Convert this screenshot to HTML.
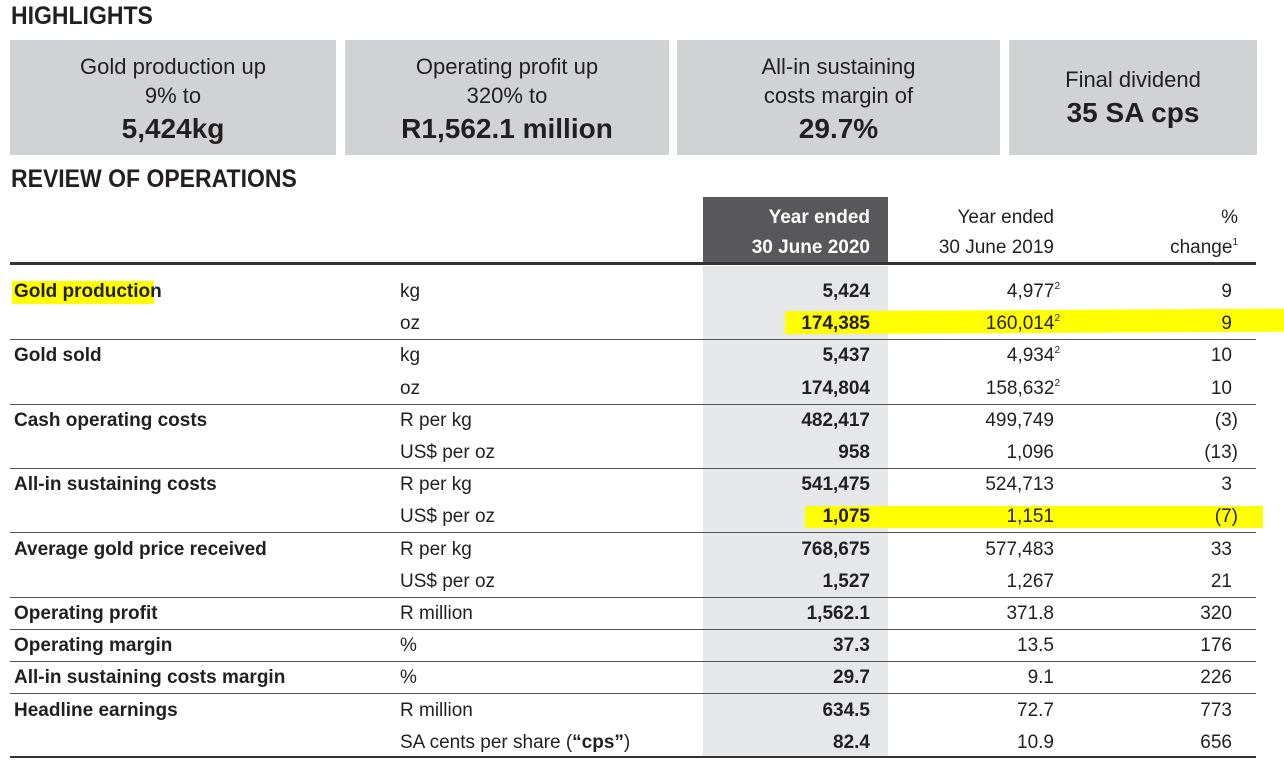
<!DOCTYPE html>
<html><head><meta charset="utf-8"><style>
body{margin:0;width:1284px;height:762px;background:#fff;font-family:"Liberation Sans",sans-serif;color:#231f20;position:relative;overflow:hidden}
.a{position:absolute;white-space:nowrap}
.h{font-size:25px;font-weight:bold;left:11px;transform:scaleX(.92);transform-origin:left}
.box{position:absolute;top:40px;height:115px;background:#d1d2d4;text-align:center;font-size:22px;line-height:29px}
.box b{font-size:28px;display:block;margin-top:4px}
.r{position:absolute;font-size:19px;height:32px;line-height:32px}
.lab{left:14px;font-weight:bold}
.unit{left:400px}
.c1{right:414px;font-weight:bold;text-align:right}
.c2{right:230px;text-align:right}
.c3{right:52px;text-align:right}
sup{font-size:10px;vertical-align:8px;line-height:0}
.line{position:absolute;left:10px;width:1246px;height:1px;background:#555}
.hl{position:absolute;background:#ffff00}
</style></head><body>
<div class="a h" style="top:2px">HIGHLIGHTS</div>
<div class="box" style="left:10px;width:326px;padding-top:12px;height:103px">Gold production up<br>9% to<b>5,424kg</b></div>
<div class="box" style="left:345px;width:324px;padding-top:12px;height:103px">Operating profit up<br>320% to<b>R1,562.1 million</b></div>
<div class="box" style="left:677px;width:323px;padding-top:12px;height:103px">All-in sustaining<br>costs margin of<b>29.7%</b></div>
<div class="box" style="left:1009px;width:248px;padding-top:25px;height:90px">Final dividend<b>35 SA cps</b></div>
<div class="a h" style="top:165px">REVIEW OF OPERATIONS</div>
<div class="a" style="left:703px;top:197px;width:185px;height:66px;background:#58585a"></div>
<div class="a" style="left:703px;top:266px;width:185px;height:490px;background:#e6e7e8"></div>
<div class="hl" style="left:12px;top:281px;width:142px;height:23px"></div>
<div class="hl" style="left:785px;top:310px;width:499px;height:23px;transform:rotate(-0.3deg)"></div>
<div class="hl" style="left:805px;top:506px;width:458px;height:22px"></div>
<div class="a" style="right:414px;top:203px;font-size:19px;line-height:30px;text-align:right;color:#fff;font-weight:bold">Year ended<br>30 June 2020</div>
<div class="a" style="right:230px;top:203px;font-size:19px;line-height:30px;text-align:right">Year ended<br>30 June 2019</div>
<div class="a" style="right:46px;top:203px;font-size:19px;line-height:30px;text-align:right">%<br>change<sup>1</sup></div>
<div class="line" style="top:262px;height:3px;background:#333"></div>
<div id="rows"></div>
<script>
const labels=["Gold production","","Gold sold","","Cash operating costs","","All-in sustaining costs","","Average gold price received","","Operating profit","Operating margin","All-in sustaining costs margin","Headline earnings",""];
const units=["kg","oz","kg","oz","R per kg","US$ per oz","R per kg","US$ per oz","R per kg","US$ per oz","R million","%","%","R million","SA cents per share (<b>\u201ccps\u201d</b>)"];
const v2020=["5,424","174,385","5,437","174,804","482,417","958","541,475","1,075","768,675","1,527","1,562.1","37.3","29.7","634.5","82.4"];
const v2019=["4,977<sup>2</sup>","160,014<sup>2</sup>","4,934<sup>2</sup>","158,632<sup>2</sup>","499,749","1,096","524,713","1,151","577,483","1,267","371.8","13.5","9.1","72.7","10.9"];
const changes=["9","9","10","10","(3)","(13)","3","(7)","33","21","320","176","226","773","656"];
const ruleAfter=[1,3,5,7,9,10,11,12,14];
const root=document.getElementById('rows');
labels.forEach((l,i)=>{
  const top=276+i*32.2;
  const cells=[["lab",l],["unit",units[i]],["c1",v2020[i]],["c2",v2019[i]],["c3",changes[i]]];
  cells.forEach(([c,t])=>{
    const d=document.createElement('div');
    d.className='r '+c;d.style.top=top+'px';
    if(c==='c2'&&t.indexOf('<sup>')>=0)d.style.right='224px';
    if(c==='c3'&&t.indexOf('(')>=0)d.style.right='46px';
    d.innerHTML=t;
    
    
    root.appendChild(d);
  });
  if(ruleAfter.includes(i)){
    const ln=document.createElement('div');
    ln.className='line';ln.style.top=(i===14?756:(top+31))+'px';
    if(i===14){ln.style.height='2px';ln.style.background='#333';}
    
    
    root.appendChild(ln);
  }
});
</script>
</body></html>
